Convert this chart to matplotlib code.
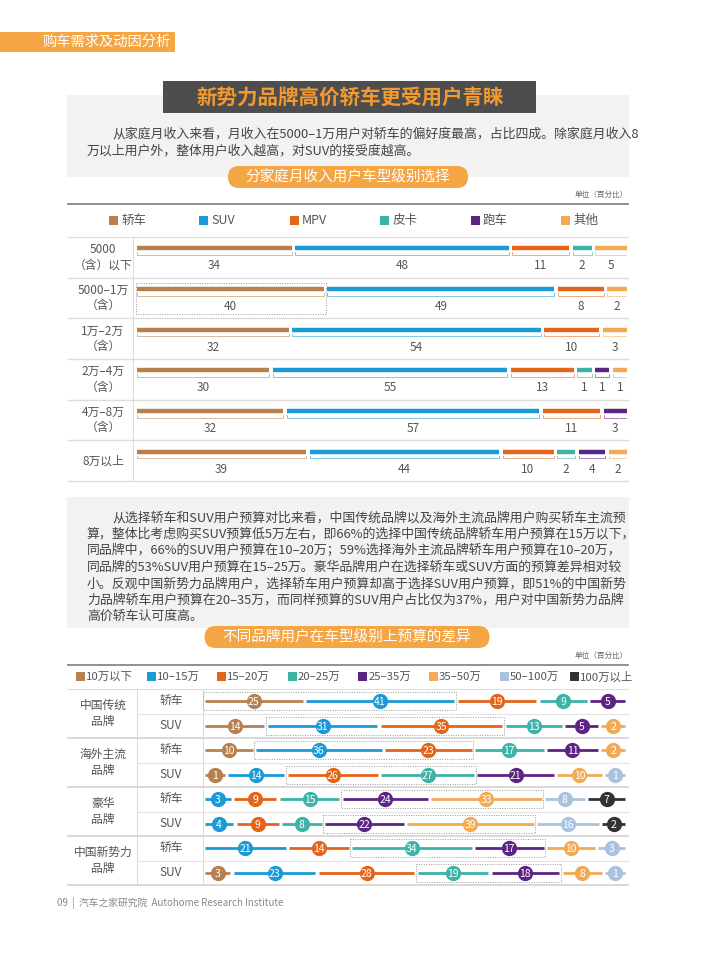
import numpy as np
import matplotlib
matplotlib.use('Agg')
import matplotlib.pyplot as plt
import matplotlib.colors as mcolors
from matplotlib.patches import Rectangle, FancyBboxPatch
from matplotlib.transforms import blended_transform_factory

plt.rcParams['font.family'] = ['Noto Sans CJK SC', 'DejaVu Sans']

W, H = 710, 963

# ---- 图1：分家庭月收入用户车型级别选择 ----
income_rows = ['5000\n（含）以下', '5000–1万\n（含）', '1万–2万\n（含）',
               '2万–4万\n（含）', '4万–8万\n（含）', '8万以上']
body_types = ['轿车', 'SUV', 'MPV', '皮卡', '跑车', '其他']
body_colors = ['#B8804F', '#1A9AD6', '#E3641B', '#3DB3A8', '#5C2483', '#F2AA55']
sedan = [34, 40, 32, 30, 32, 39]
suv = [48, 49, 54, 55, 57, 44]
mpv = [11, 8, 10, 13, 11, 10]
pickup = [2, 0, 0, 1, 0, 2]
sports = [0, 0, 0, 1, 3, 4]
other = [5, 2, 3, 1, 0, 2]
top_highlight = (1, 0)   # 5000-1万 行的轿车

# ---- 图2：不同品牌用户在车型级别上预算的差异 ----
brands = ['中国传统\n品牌', '海外主流\n品牌', '豪华\n品牌', '中国新势力\n品牌']
kinds = ['轿车', 'SUV']
budget_bands = ['10万以下', '10–15万', '15–20万', '20–25万',
                '25–35万', '35–50万', '50–100万', '100万以上']
band_colors = ['#B8804F', '#1A9AD6', '#E3641B', '#3DB3A8',
               '#5C2483', '#F2AA55', '#A9C3DF', '#333333']
cn_sedan = [25, 41, 19, 9, 5, 0, 0, 0]
cn_suv = [14, 31, 35, 13, 5, 2, 0, 0]
intl_sedan = [10, 36, 23, 17, 11, 2, 0, 0]
intl_suv = [1, 14, 26, 27, 21, 10, 1, 0]
lux_sedan = [0, 3, 9, 15, 24, 33, 8, 7]
lux_suv = [0, 4, 9, 8, 22, 39, 16, 2]
new_sedan = [0, 21, 14, 34, 17, 10, 3, 0]
new_suv = [3, 23, 28, 19, 18, 8, 1, 0]
# 虚线框标出的两个区间（起始级别）
budget_highlight = [0, 1, 1, 2, 4, 4, 3, 3]

paragraph1 = ['从家庭月收入来看，月收入在5000–1万用户对轿车的偏好度最高，占比四成。除家庭月收入8',
              '万以上用户外，整体用户收入越高，对SUV的接受度越高。']
paragraph2 = ['从选择轿车和SUV用户预算对比来看，中国传统品牌以及海外主流品牌用户购买轿车主流预',
              '算，整体比考虑购买SUV预算低5万左右，即66%的选择中国传统品牌轿车用户预算在15万以下，',
              '同品牌中，66%的SUV用户预算在10–20万；59%选择海外主流品牌轿车用户预算在10–20万，',
              '同品牌的53%SUV用户预算在15–25万。豪华品牌用户在选择轿车或SUV方面的预算差异相对较',
              '小。反观中国新势力品牌用户，选择轿车用户预算却高于选择SUV用户预算，即51%的中国新势',
              '力品牌轿车用户预算在20–35万，而同样预算的SUV用户占比仅为37%，用户对中国新势力品牌',
              '高价轿车认可度高。']

TXT = '#444444'
ORANGE = '#F4A645'


def lighten(c, amt=0.5):
    r, g, b = mcolors.to_rgb(c)
    return (r + (1 - r) * amt, g + (1 - g) * amt, b + (1 - b) * amt)


def layout(vals, extra, gap):
    # 每段宽度 = 数值 + 固定补偿，整行铺满 [0, 1]
    idx = [i for i, v in enumerate(vals) if v > 0]
    w = np.array([vals[i] + extra for i in idx], float)
    w = w * (1 - gap * (len(idx) - 1)) / w.sum()
    starts = np.concatenate([[0], np.cumsum(w + gap)[:-1]])
    return idx, starts, starts + w


def px_axes(x0, y0, x1, y1):
    return fig.add_axes([x0 / W, 1 - y1 / H, (x1 - x0) / W, (y1 - y0) / H])


fig = plt.figure(figsize=(W / 100, H / 100), dpi=100)
bg = fig.add_axes([0, 0, 1, 1])
bg.set_xlim(0, W)
bg.set_ylim(H, 0)
bg.axis('off')

# 页眉
bg.add_patch(Rectangle((0, 32), 175, 20, color=ORANGE, lw=0))
bg.text(42, 42, '购车需求及动因分析', color='white', fontsize=10.3, va='center')

# 标题与说明
bg.add_patch(Rectangle((67, 95), 562, 82, color='#F2F2F2', lw=0))
bg.add_patch(Rectangle((163, 81), 373, 32, color='#4D4D4D', lw=0))
bg.text(350, 97, '新势力品牌高价轿车更受用户青睐', color='#F39A2E', fontsize=14.8,
        fontweight='bold', ha='center', va='center')
bg.text(112, 134, paragraph1[0], color=TXT, fontsize=9.3, va='center')
bg.text(87, 151, paragraph1[1], color=TXT, fontsize=9.3, va='center')


def pill(xc, yc, w, text):
    bg.add_patch(FancyBboxPatch((xc - w / 2, yc - 11), w, 22,
                                boxstyle='round,pad=0,rounding_size=11',
                                fc=ORANGE, ec='none'))
    bg.text(xc, yc, text, color='white', fontsize=10.5, ha='center', va='center')


pill(348, 177, 240, '分家庭月收入用户车型级别选择')

# ---- 图1 ----
bg.text(628, 195, '单位（百分比）', color='#666666', fontsize=5.5, ha='right', va='center')
bg.plot([68, 628], [204, 204], color='#888888', lw=1.3)
bg.plot([68, 628], [237, 237], color='#DDDDDD', lw=0.8)
for i, name in enumerate(body_types):
    x = 109 + i * 90.4
    bg.add_patch(Rectangle((x, 216), 9, 9, color=body_colors[i], lw=0))
    bg.text(x + 12, 220.5, name, color='#555555', fontsize=9, va='center')

ax1 = px_axes(137, 237, 627, 481)
ax1.set_xlim(0, 1)
ax1.set_ylim(len(income_rows) - 0.5, -0.5)
ax1.axis('off')
tr1 = blended_transform_factory(bg.transData, ax1.transData)
bg.plot([133, 133], [237, 481], color='#DDDDDD', lw=0.8)

top_series = [sedan, suv, mpv, pickup, sports, other]
for r, label in enumerate(income_rows):
    ax1.text(103, r, label, transform=tr1, ha='center', va='center',
             fontsize=8.5, color='#555555', linespacing=1.25)
    ax1.plot([68, 628], [r + 0.5, r + 0.5], transform=tr1, color='#DDDDDD',
             lw=1.0, clip_on=False)
    vals = [s[r] for s in top_series]
    idx, st, en = layout(vals, 2.5, 0.007)
    yb = r - 0.22
    for k, s, e in zip(idx, st, en):
        c = body_colors[k]
        ax1.plot([s, e], [yb, yb], color=c, lw=3.2, solid_capstyle='butt')
        ax1.plot([s, s, e, e], [yb + 0.1, yb + 0.16, yb + 0.16, yb + 0.1],
                 color=lighten(c, 0.45), lw=0.7)
        ax1.text((s + e) / 2, r + 0.21, str(vals[k]), ha='center', va='center',
                 fontsize=8.5, color='#555555')
        if (r, k) == top_highlight:
            ax1.add_patch(Rectangle((s - 0.002, r - 0.36), e - s + 0.006, 0.76,
                                    fill=False, ec='#999999', lw=0.7,
                                    ls=(0, (1, 1.5)), clip_on=False))

# ---- 说明2 ----
bg.add_patch(Rectangle((67, 497), 562, 131, color='#F2F2F2', lw=0))
for j, line in enumerate(paragraph2):
    bg.text(112 if j == 0 else 87, 518 + j * 16.4, line, color=TXT,
            fontsize=9.3, va='center')
pill(347, 637, 285, '不同品牌用户在车型级别上预算的差异')

# ---- 图2 ----
bg.text(628, 656, '单位（百分比）', color='#666666', fontsize=5.5, ha='right', va='center')
bg.plot([68, 628], [665, 665], color='#888888', lw=1.3)
bg.plot([68, 628], [689, 689], color='#DDDDDD', lw=0.8)
for i, name in enumerate(budget_bands):
    x = 76 + i * 70.6
    bg.add_patch(Rectangle((x, 672.5), 9, 9, color=band_colors[i], lw=0))
    bg.text(x + 10, 677, name, color='#555555', fontsize=8.2, va='center')

budget_rows = [cn_sedan, cn_suv, intl_sedan, intl_suv,
               lux_sedan, lux_suv, new_sedan, new_suv]
ax2 = px_axes(205, 689, 625, 885)
ax2.set_xlim(0, 1)
ax2.set_ylim(len(budget_rows) - 0.5, -0.5)
ax2.axis('off')
tr2 = blended_transform_factory(bg.transData, ax2.transData)
bg.plot([203, 203], [689, 885], color='#DDDDDD', lw=0.8)
bg.plot([137, 137], [689, 885], color='#DDDDDD', lw=0.8)

for g, brand in enumerate(brands):
    ax2.text(103, 2 * g + 0.5, brand, transform=tr2, ha='center', va='center',
             fontsize=8.5, color='#555555', linespacing=1.25)
    ax2.plot([68, 628], [2 * g + 1.5, 2 * g + 1.5], transform=tr2,
             color='#D5D5D5', lw=1.3, clip_on=False)
    ax2.plot([137, 628], [2 * g + 0.5, 2 * g + 0.5], transform=tr2,
             color='#E3E3E3', lw=0.8, clip_on=False)

for r, vals in enumerate(budget_rows):
    ax2.text(171, r, kinds[r % 2], transform=tr2, ha='center', va='center',
             fontsize=8.5, color='#555555')
    idx, st, en = layout(vals, 6, 0.008)
    pos = dict(zip(idx, zip(st, en)))
    for k, s, e in zip(idx, st, en):
        c = band_colors[k]
        ax2.plot([s, e], [r, r], color=c, lw=2.0, solid_capstyle='butt',
                 clip_on=False, zorder=2)
        ax2.plot([(s + e) / 2], [r], 'o', ms=11, color=c, mec='none',
                 clip_on=False, zorder=3)
        ax2.text((s + e) / 2, r, str(vals[k]), color='white', fontsize=7.5,
                 ha='center', va='center_baseline', zorder=4)
    h = budget_highlight[r]
    x0, x1 = pos[h][0], pos[h + 1][1]
    ax2.add_patch(Rectangle((x0 - 0.004, r - 0.36), x1 - x0 + 0.008, 0.72,
                            fill=False, ec='#999999', lw=0.7,
                            ls=(0, (1, 1.5)), clip_on=False, zorder=1))

# 页脚
bg.text(57, 903, '09  |  汽车之家研究院  Autohome Research Institute',
        color='#888888', fontsize=7, va='center')

fig.savefig('out.png', dpi=100, facecolor='white')
